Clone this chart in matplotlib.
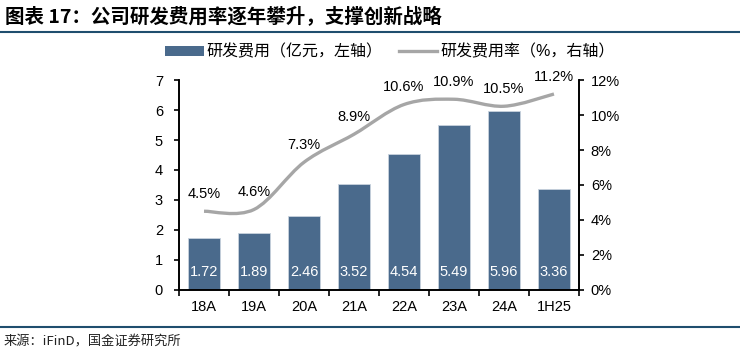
import numpy as np
import matplotlib
matplotlib.use("Agg")
import matplotlib.pyplot as plt
from matplotlib.path import Path
from matplotlib.patches import PathPatch
from matplotlib.lines import Line2D
from matplotlib.patches import Patch

plt.rcParams['font.family'] = ['Liberation Sans', 'Noto Sans CJK SC', 'DejaVu Sans']

# data
categories = ["18A", "19A", "20A", "21A", "22A", "23A", "24A", "1H25"]
rd_expense = [1.72, 1.89, 2.46, 3.52, 4.54, 5.49, 5.96, 3.36]   # 亿元
rd_ratio = [4.5, 4.6, 7.3, 8.9, 10.6, 10.9, 10.5, 11.2]          # %

bar_color = "#4A6A8C"
line_color = "#A6A6A6"
rule_color = "#1F4E6E"

fig = plt.figure(figsize=(7.4, 3.58), dpi=100)
ax = fig.add_axes([0.2419, 0.19, 0.5405, 0.5865])
ax2 = ax.twinx()

x = np.arange(len(categories))
ax.bar(x, rd_expense, width=0.64, color=bar_color, edgecolor="#C9D3DE", linewidth=0.6, zorder=2)
for xi, v in zip(x, rd_expense):
    ax.annotate(f"{v:.2f}", (xi, 0), xytext=(0, 13), textcoords="offset points",
                ha="center", va="center", color="white", fontsize=10.5)

# smooth line (Catmull-Rom -> cubic bezier)
pts = np.column_stack([x, rd_ratio]).astype(float)
ext = np.vstack([pts[0], pts, pts[-1]])
verts = [tuple(pts[0])]
codes = [Path.MOVETO]
for i in range(len(pts) - 1):
    p0, p1, p2, p3 = ext[i], ext[i + 1], ext[i + 2], ext[i + 3]
    c1 = p1 + (p2 - p0) / 6
    c2 = p2 - (p3 - p1) / 6
    verts += [tuple(c1), tuple(c2), tuple(p2)]
    codes += [Path.CURVE4] * 3
ax2.add_patch(PathPatch(Path(verts, codes), facecolor="none", edgecolor=line_color,
                        linewidth=2.4, capstyle="butt", zorder=3))
for xi, v in zip(x, rd_ratio):
    ax2.annotate(f"{v:.1f}%", (xi, v), xytext=(0, 12.5), textcoords="offset points",
                 ha="center", va="center", color="black", fontsize=10.5)

ax.set_xlim(-0.5, len(categories) - 0.5)
ax.set_ylim(0, 7)
ax.set_yticks(range(0, 8))
ax2.set_ylim(0, 12)
ax2.set_yticks(range(0, 13, 2))
ax2.set_yticklabels([f"{t}%" for t in range(0, 13, 2)])

ax.set_xticks(x)
ax.set_xticklabels(categories)
ax.set_xticks(np.arange(-0.5, len(categories)), minor=True)
ax.tick_params(axis="x", which="major", length=0, pad=7, labelsize=10.5)
ax.tick_params(axis="x", which="minor", length=4, width=1.2, direction="out")
ax.tick_params(axis="y", length=3.5, width=1.2, direction="out", labelsize=10.5, pad=8)
ax2.tick_params(axis="y", length=3.5, width=1.2, direction="out", labelsize=10.5, pad=5)

for a in (ax, ax2):
    a.spines["top"].set_visible(False)
    for s in ("left", "right", "bottom"):
        a.spines[s].set_linewidth(1.2)
        a.spines[s].set_color("black")

handles = [Patch(facecolor=bar_color, edgecolor="none"),
           Line2D([0], [0], color=line_color, linewidth=2.4)]
labels = ["研发费用（亿元，左轴）", "研发费用率（%，右轴）"]
fig.legend(handles, labels, loc="center", bbox_to_anchor=(0.527, 0.855), ncol=2,
           frameon=False, fontsize=11.5, handlelength=2.4, handleheight=0.55,
           handletextpad=0.2, columnspacing=1.0)

# title, rules and source
fig.text(0.007, 0.952, "图表 17：公司研发费用率逐年攀升，支撑创新战略", fontsize=14,
         fontweight="bold", style="italic", ha="left", va="center",
         family=["Noto Sans CJK SC", "DejaVu Sans"])
fig.add_artist(Line2D([0, 1], [0.911, 0.911], color=rule_color, linewidth=1.5))
fig.add_artist(Line2D([0, 1], [0.087, 0.087], color=rule_color, linewidth=1.5))
fig.text(0.005, 0.045, "来源：iFinD，国金证券研究所", fontsize=9.5, ha="left", va="center",
         color="#222222", family=["Noto Sans CJK SC", "DejaVu Sans"])

fig.savefig("out.png", dpi=100)
